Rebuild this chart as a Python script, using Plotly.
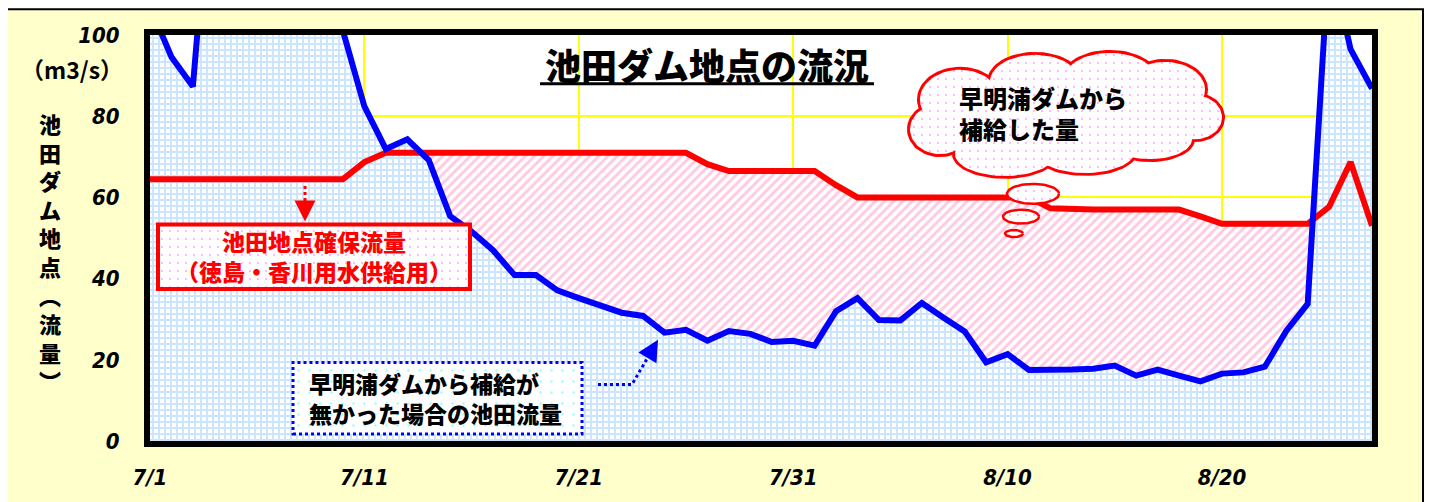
import numpy as np
import pandas as pd
import plotly.graph_objects as go

# ---------------- data ----------------
dates = pd.date_range("2005-07-01", "2005-08-27", freq="D")  # 7/1 .. 8/27

# 池田地点流量（早明浦ダムから補給が無かった場合） m3/s
flow_no_supply = [107, 94.6, 87.3, 150, 170, 180, 180, 175, 160, 101,
                  82.4, 71.9, 74.3, 69.2, 55.4, 51.6, 47.0, 40.9, 40.9, 37.1,
                  35.2, 33.5, 31.6, 30.8, 26.7, 27.4, 24.7, 27.1, 26.4, 24.4,
                  24.7, 23.5, 32.0, 35.2, 29.8, 29.7, 34.0, 30.4, 27.0, 19.4,
                  21.4, 17.5, 17.4, 17.6, 17.8, 18.6, 16.1, 17.6, 16.1, 14.7,
                  16.6, 16.9, 18.3, 27.1, 33.8, 120, 96.5, 86.8]

# 池田地点確保流量 m3/s
secured_flow = [64.5, 64.5, 64.5, 64.5, 64.4, 64.5, 64.5, 64.5, 64.5, 64.5,
                68.7, 71, 71, 71, 71, 71, 71, 71, 71, 71,
                71, 71, 71, 71, 71, 71, 68.2, 66.5, 66.5, 66.5,
                66.5, 66.5, 63, 60, 60, 60, 60, 60, 60, 60,
                60, 60, 57.3, 57, 57, 57, 57, 57, 57, 55.3,
                53.5, 53.5, 53.5, 53.5, 53.5, 57.7, 68.7, 53]

tick_idx = [0, 10, 20, 30, 40, 50]
tick_labels = ["7/1", "7/11", "7/21", "7/31", "8/10", "8/20"]
y_ticks = [0, 20, 40, 60, 80, 100]
y_tick_labels = ["0", "20", "40", "60", "80", "100"]

# ---------------- geometry helpers (reference pixel -> paper) ----------------
OFF = 8                      # page body margin
W, H = 1432 - OFF, 502 - OFF
PL, PR, PT, PB = 150, 1372, 35, 444


def fx(px):
    return (px - PL) / (PR - PL)


def fy(py):
    return (PB - py) / (PB - PT)


JP = "Noto Sans CJK JP"
NUM = "DejaVu Sans Condensed, DejaVu Sans"

# ---------------- hatch region (supply amount) ----------------
blue = np.array(flow_no_supply, float)
red = np.array(secured_flow, float)
n = len(blue)
xs, lo, hi = [], [], []
for i in range(n):
    if i > 0:
        d0 = red[i - 1] - blue[i - 1]
        d1 = red[i] - blue[i]
        if d0 * d1 < 0:
            t = d0 / (d0 - d1)
            yc = red[i - 1] + t * (red[i] - red[i - 1])
            xs.append(i - 1 + t)
            lo.append(yc)
            hi.append(yc)
    xs.append(i)
    lo.append(min(red[i], blue[i]))
    hi.append(red[i])
xs_dates = dates[0] + pd.to_timedelta(np.array(xs), unit="D")

fig = go.Figure()

# blue grid area (flow without supply)
fig.add_trace(go.Scatter(
    x=dates, y=blue, mode="lines", line=dict(width=0, color="blue"),
    fill="tozeroy", fillcolor="rgba(0,0,0,0)",
    fillpattern=dict(shape="+", fgcolor="#99cbff", bgcolor="white",
                     size=6, solidity=0.55),
    hoverinfo="skip", showlegend=False))

# hatch between the two lines
fig.add_trace(go.Scatter(
    x=xs_dates, y=lo, mode="lines", line=dict(width=0),
    hoverinfo="skip", showlegend=False))
fig.add_trace(go.Scatter(
    x=xs_dates, y=hi, mode="lines", line=dict(width=0),
    fill="tonexty", fillcolor="rgba(0,0,0,0)",
    fillpattern=dict(shape="/", fgcolor="#ff94c6", bgcolor="white",
                     size=6.5, solidity=0.45),
    hoverinfo="skip", showlegend=False))

# lines
fig.add_trace(go.Scatter(
    x=dates, y=red, mode="lines", line=dict(color="#ff0000", width=6),
    name="池田地点確保流量", showlegend=False))
fig.add_trace(go.Scatter(
    x=dates, y=blue, mode="lines", line=dict(color="#0000ff", width=6),
    name="早明浦ダムから補給が無かった場合の池田流量", showlegend=False))


# ---------------- decorative callouts on an overlay (paper-like) axis ----------------
def deco(xp, yp, fill_fg=None, fill_bg="white", dot=8, sol=0.06, line=None):
    kw = dict(x=xp, y=yp, xaxis="x2", yaxis="y2", mode="lines",
              fill="toself", fillcolor=fill_bg, hoverinfo="skip",
              showlegend=False)
    if line is None:
        kw["line"] = dict(width=0)
    else:
        kw["line"] = line
    if fill_fg is not None:
        kw["fillpattern"] = dict(shape=".", fgcolor=fill_fg, bgcolor=fill_bg,
                                 size=dot, solidity=sol)
    fig.add_trace(go.Scatter(**kw))


def rect_pts(x0, y0, x1, y1):
    return ([fx(x0), fx(x1), fx(x1), fx(x0), fx(x0)],
            [fy(y0), fy(y0), fy(y1), fy(y1), fy(y0)])


def ell_pts(cx, cy, rx, ry):
    th = np.linspace(0, 2 * np.pi, 73)
    return ([fx(v) for v in cx + rx * np.cos(th)],
            [fy(v) for v in cy + ry * np.sin(th)])


# red box and blue box backgrounds (dotted)
deco(*rect_pts(158, 226, 470, 291), fill_fg="#ff55ff", dot=8, sol=0.06)
deco(*rect_pts(293, 365, 582, 437), fill_fg="#33ffff", dot=11, sol=0.04)

# cloud: red rim then dotted white interior
cloud = [(960, 100, 40, 30), (1035, 82, 45, 27), (1110, 78, 45, 25),
         (1165, 90, 40, 28), (1195, 118, 27, 22), (1150, 140, 42, 20),
         (1085, 152, 50, 22), (1005, 155, 50, 22), (940, 130, 30, 25),
         (1070, 115, 110, 38)]
for cx, cy, rx, ry in cloud:
    deco(*ell_pts(cx, cy, rx + 3, ry + 3), fill_bg="#ff0000")
for cx, cy, rx, ry in cloud:
    deco(*ell_pts(cx, cy, rx, ry), fill_fg="#ff55ff", dot=8, sol=0.06)
for cx, cy, rx, ry in [(1033, 195, 26, 10), (1021, 218, 18, 7), (1014, 235, 9, 3.5)]:
    deco(*ell_pts(cx, cy, rx, ry), fill_fg="#ff55ff", dot=8, sol=0.06,
         line=dict(color="#ff0000", width=2.5))

shapes = []
# outer pale-yellow panel + white plot area
shapes.append(dict(type="rect", xref="paper", yref="paper",
                   x0=fx(7), x1=fx(1423), y0=fy(520), y1=fy(9),
                   fillcolor="#ffffcc", line=dict(color="black", width=2),
                   layer="below"))
shapes.append(dict(type="rect", xref="paper", yref="paper",
                   x0=0, x1=1, y0=0, y1=1, fillcolor="white",
                   line=dict(width=0), layer="below"))

# title underline
shapes.append(dict(type="line", xref="paper", yref="paper",
                   x0=fx(540), x1=fx(874), y0=fy(84), y1=fy(84),
                   line=dict(color="black", width=3), layer="above"))

# red box border
shapes.append(dict(type="rect", xref="paper", yref="paper",
                   x0=fx(158), x1=fx(470), y0=fy(291), y1=fy(226),
                   line=dict(color="#ff0000", width=4), layer="above"))
# red dotted pointer
shapes.append(dict(type="line", xref="paper", yref="paper",
                   x0=fx(305), x1=fx(305), y0=fy(187), y1=fy(212),
                   line=dict(color="#ff0000", width=3, dash="dot"),
                   layer="above"))

# blue dotted box border
shapes.append(dict(type="rect", xref="paper", yref="paper",
                   x0=fx(293), x1=fx(582), y0=fy(437), y1=fy(365),
                   line=dict(color="#0000ff", width=3, dash="dot"),
                   layer="above"))
shapes.append(dict(type="path", xref="paper", yref="paper",
                   path=f"M {fx(598)},{fy(387)} L {fx(632)},{fy(387)} L {fx(650)},{fy(356)}",
                   line=dict(color="#0000ff", width=3, dash="dot"),
                   layer="above"))

ann = []


def txt(text, x, y, size, color="black", xanchor="center", align="center",
        family=JP, weight=900):
    ann.append(dict(text=text, x=fx(x), y=fy(y), xref="paper", yref="paper",
                    showarrow=False, xanchor=xanchor, yanchor="middle",
                    align=align,
                    font=dict(family=family, size=size, color=color,
                              weight=weight)))


txt("池田ダム地点の流況", 707, 64, 36)
txt("（m3/s）", 72, 69, 23, weight=700)
txt("<br>".join("池田ダム地点︵流量︶"), 50, 253, 22)

txt("池田地点確保流量<br>（徳島・香川用水供給用）", 314, 258, 23, color="#ff0000")
txt("早明浦ダムから補給が<br>無かった場合の池田流量", 307, 401, 23,
    xanchor="left", align="left")
txt("早明浦ダムから<br>補給した量", 957, 114, 24, xanchor="left", align="left")

# arrowheads
ann.append(dict(x=fx(305), y=fy(223), xref="paper", yref="paper", text="",
                showarrow=True, ax=0, ay=-12, arrowhead=2, arrowsize=1.4,
                arrowwidth=3, arrowcolor="#ff0000"))
ann.append(dict(x=fx(658), y=fy(342), xref="paper", yref="paper", text="",
                showarrow=True, ax=-7, ay=12, arrowhead=2, arrowsize=1.4,
                arrowwidth=3, arrowcolor="#0000ff"))

fig.update_layout(
    width=W, height=H,
    margin=dict(l=PL - OFF, r=1432 - PR, t=PT - OFF, b=502 - PB),
    paper_bgcolor="white", plot_bgcolor="white",
    shapes=shapes, annotations=ann, showlegend=False,
    xaxis=dict(type="date", range=[dates[0], dates[-1]],
               tickvals=[dates[i] for i in tick_idx], ticktext=tick_labels,
               showgrid=True, gridcolor="#ffff00", gridwidth=2,
               showline=True, linecolor="black", linewidth=6, mirror=True,
               zeroline=False, ticks="", ticklabelstandoff=12,
               tickfont=dict(family=NUM, size=22, color="black",
                             weight="bold", style="italic")),
    yaxis=dict(range=[0, 100], tickvals=y_ticks, ticktext=y_tick_labels,
               showgrid=True, gridcolor="#ffff00", gridwidth=2,
               showline=True, linecolor="black", linewidth=6, mirror=True,
               zeroline=False, ticks="", ticklabelstandoff=20,
               tickfont=dict(family=NUM, size=22, color="black",
                             weight="bold", style="italic")),
    xaxis2=dict(overlaying="x", anchor="y2", range=[0, 1], visible=False,
                fixedrange=True),
    yaxis2=dict(overlaying="y", anchor="x2", range=[0, 1], visible=False,
                fixedrange=True),
)

fig.write_html("out.html")
